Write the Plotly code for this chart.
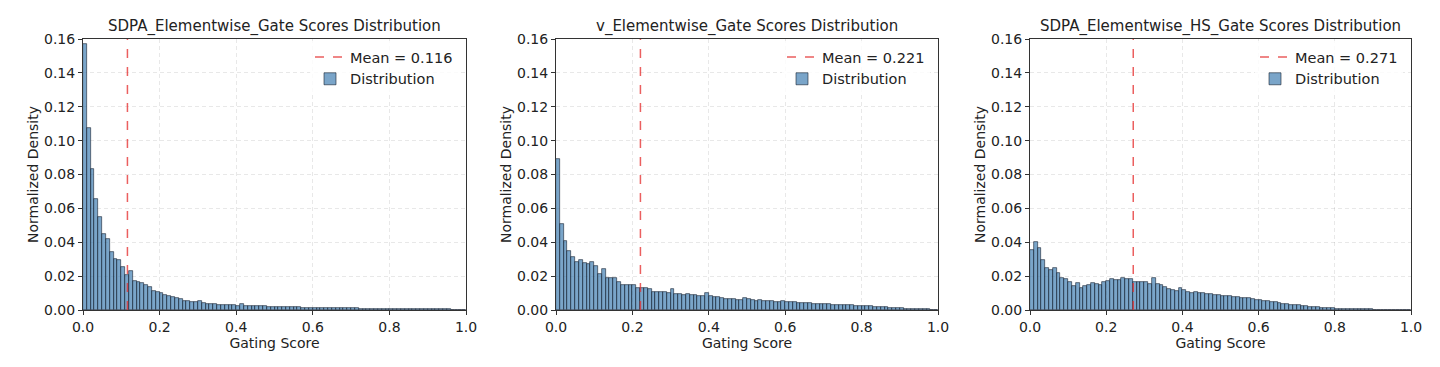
import plotly.graph_objects as go

bin_edges = [i / 100 for i in range(101)]
bin_centers = [(bin_edges[i] + bin_edges[i + 1]) / 2 for i in range(100)]

titles = ["SDPA_Elementwise_Gate Scores Distribution",
          "v_Elementwise_Gate Scores Distribution",
          "SDPA_Elementwise_HS_Gate Scores Distribution"]
means = [0.116, 0.221, 0.271]

sdpa_elem = [0.157, 0.1075, 0.0834, 0.0655, 0.0547, 0.0451, 0.0418, 0.0343, 0.0303, 0.0297,
             0.0255, 0.0204, 0.0228, 0.0170, 0.0166, 0.0158, 0.0150, 0.0135, 0.0115, 0.0107,
             0.0101, 0.0091, 0.0081, 0.0077, 0.0071, 0.0065, 0.0055, 0.0051, 0.0050, 0.0048,
             0.0055, 0.0040, 0.0038, 0.0036, 0.0034, 0.0030, 0.0030, 0.0029, 0.0028, 0.0027,
             0.0026, 0.0033, 0.0025, 0.0024, 0.0023, 0.0022, 0.0022, 0.0021, 0.0020, 0.0019,
             0.0019, 0.0018, 0.0017, 0.0018, 0.0016, 0.0015, 0.0015, 0.0014, 0.0014, 0.0013,
             0.0013, 0.0012, 0.0012, 0.0011, 0.0011, 0.0011, 0.0010, 0.0010, 0.0010, 0.0009,
             0.0009, 0.0009, 0.0008, 0.0008, 0.0008, 0.0008, 0.0007, 0.0007, 0.0007, 0.0007,
             0.0006, 0.0006, 0.0006, 0.0006, 0.0005, 0.0005, 0.0005, 0.0005, 0.0004, 0.0004,
             0.0004, 0.0004, 0.0003, 0.0003, 0.0003, 0.0003, 0.0002, 0.0002, 0.0002, 0.0002]

v_elem = [0.0894, 0.0505, 0.0407, 0.0348, 0.0312, 0.0281, 0.0293, 0.0275, 0.0269, 0.0285,
          0.0257, 0.0214, 0.0244, 0.0191, 0.0191, 0.0191, 0.0167, 0.0147, 0.0147, 0.0147,
          0.0147, 0.0130, 0.0130, 0.0130, 0.0122, 0.0108, 0.0108, 0.0108, 0.0106, 0.0098,
          0.0122, 0.0096, 0.0096, 0.0088, 0.0096, 0.0090, 0.0088, 0.0084, 0.0080, 0.0100,
          0.0080, 0.0077, 0.0075, 0.0071, 0.0065, 0.0066, 0.0064, 0.0062, 0.0060, 0.0068,
          0.0065, 0.0058, 0.0056, 0.0057, 0.0054, 0.0052, 0.0056, 0.0050, 0.0048, 0.0052,
          0.0046, 0.0045, 0.0047, 0.0043, 0.0042, 0.0040, 0.0041, 0.0038, 0.0037, 0.0036,
          0.0034, 0.0035, 0.0032, 0.0031, 0.0032, 0.0029, 0.0028, 0.0030, 0.0026, 0.0025,
          0.0024, 0.0023, 0.0022, 0.0020, 0.0018, 0.0017, 0.0015, 0.0014, 0.0012, 0.0011,
          0.0009, 0.0008, 0.0007, 0.0006, 0.0005, 0.0004, 0.0003, 0.0003, 0.0002, 0.0002]

sdpa_hs = [0.0354, 0.0400, 0.0366, 0.0295, 0.0248, 0.0238, 0.0248, 0.0218, 0.0188, 0.0184,
           0.0168, 0.0139, 0.0162, 0.0129, 0.0143, 0.0149, 0.0160, 0.0156, 0.0149, 0.0164,
           0.0172, 0.0182, 0.0176, 0.0180, 0.0188, 0.0186, 0.0182, 0.0168, 0.0168, 0.0168,
           0.0168, 0.0156, 0.0188, 0.0156, 0.0147, 0.0137, 0.0123, 0.0117, 0.0113, 0.0129,
           0.0117, 0.0109, 0.0103, 0.0105, 0.0100, 0.0098, 0.0094, 0.0096, 0.0090, 0.0088,
           0.0085, 0.0083, 0.0080, 0.0078, 0.0075, 0.0072, 0.0070, 0.0068, 0.0064, 0.0062,
           0.0058, 0.0055, 0.0052, 0.0048, 0.0045, 0.0042, 0.0038, 0.0035, 0.0032, 0.0030,
           0.0027, 0.0024, 0.0021, 0.0019, 0.0017, 0.0015, 0.0013, 0.0011, 0.0010, 0.0009,
           0.0008, 0.0007, 0.0006, 0.0005, 0.0005, 0.0004, 0.0004, 0.0003, 0.0003, 0.0003,
           0.0002, 0.0002, 0.0002, 0.0002, 0.0001, 0.0001, 0.0001, 0.0001, 0.0001, 0.0001]

series = [sdpa_elem, v_elem, sdpa_hs]

x_ticks = [0.0, 0.2, 0.4, 0.6, 0.8, 1.0]
y_ticks = [0.00, 0.02, 0.04, 0.06, 0.08, 0.10, 0.12, 0.14, 0.16]

W, H = 1440, 367
OFF = 8  # page body margin
x_px = [(83, 466), (556, 938), (1030, 1411)]
y_top, y_bot = 39, 310

FONT = "DejaVu Sans"
BAR_COLOR = "rgba(70,130,180,0.72)"
EDGE = "rgba(20,30,45,0.85)"
MEAN_COLOR = "rgba(230,50,50,0.78)"

fig = go.Figure()
layout = dict(
    template="none",
    width=W, height=H,
    margin=dict(l=0, r=0, t=0, b=0, autoexpand=False),
    paper_bgcolor="white", plot_bgcolor="white",
    font=dict(family=FONT, size=14, color="#222"),
    bargap=0,
    annotations=[],
)

for k in range(3):
    sfx = "" if k == 0 else str(k + 1)
    xa, ya = "x" + sfx, "y" + sfx
    leg = "legend" + sfx
    fig.add_trace(go.Scatter(
        x=[means[k], means[k]], y=[0, 0.16], mode="lines",
        line=dict(color=MEAN_COLOR, width=1.5, dash="dash"),
        name="Mean = %.3f" % means[k], xaxis=xa, yaxis=ya, legend=leg,
        legendrank=1, hoverinfo="skip"))
    fig.add_trace(go.Bar(
        x=bin_centers, y=series[k], width=[0.01] * 100,
        marker=dict(color=BAR_COLOR, line=dict(color=EDGE, width=0.7)),
        name="Distribution", xaxis=xa, yaxis=ya, legend=leg, legendrank=2))

    x0, x1 = x_px[k][0] - OFF, x_px[k][1] - OFF
    dom_x = [x0 / W, x1 / W]
    dom_y = [1 - (y_bot - OFF) / H, 1 - (y_top - OFF) / H]
    axis_common = dict(showline=True, linecolor="#333", linewidth=1, mirror=True,
                       ticks="outside", ticklen=4, tickcolor="#333", automargin=False,
                       showgrid=True, gridcolor="rgba(0,0,0,0.09)", griddash="4px,3px",
                       gridwidth=0.8, zeroline=False,
                       tickfont=dict(family=FONT, size=14, color="#222"))
    layout["xaxis" + sfx] = dict(
        axis_common, domain=dom_x, range=[0, 1], tickvals=x_ticks,
        ticktext=["%.1f" % v for v in x_ticks], anchor=ya,
        title=dict(text="Gating Score", font=dict(family=FONT, size=14), standoff=3))
    layout["yaxis" + sfx] = dict(
        axis_common, domain=dom_y, range=[0, 0.16], tickvals=y_ticks,
        ticktext=["%.2f" % v for v in y_ticks], anchor=xa,
        title=dict(text="Normalized Density", font=dict(family=FONT, size=14), standoff=2))
    layout[leg] = dict(
        x=(x1 - 8) / W, xanchor="right", y=1 - (44 - OFF - 3) / H, yanchor="top",
        bgcolor="rgba(255,255,255,0.8)", borderwidth=0,
        font=dict(family=FONT, size=14.5, color="#222"),
        tracegroupgap=2, itemwidth=30, traceorder="normal")
    layout["annotations"].append(dict(
        text=titles[k], x=(x0 + x1) / 2 / W, y=1 - (27 - OFF) / H, xref="paper", yref="paper",
        xanchor="center", yanchor="middle", showarrow=False,
        font=dict(family=FONT, size=15, color="#222")))

fig.update_layout(**layout)
fig.write_html("out.html")
